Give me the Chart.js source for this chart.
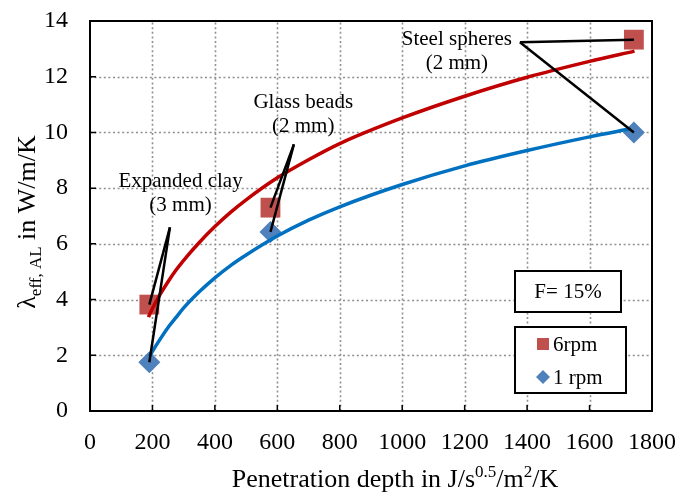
<!DOCTYPE html>
<html>
<head>
<meta charset="utf-8">
<script src="https://cdn.jsdelivr.net/npm/chart.js@4"></script>
<style>
  html, body { margin: 0; padding: 0; background: #fff; }
  #wrap { width: 679px; height: 493px; }
</style>
</head>
<body>
<div id="wrap"><canvas id="myChart" width="679" height="493"></canvas></div>
<script>
// measured points (penetration depth vs effective conductivity)
const depth = [190, 578, 1742];
const rpm6 = [3.82, 7.3, 13.33];
const rpm1 = [1.75, 6.43, 10.0];

// logarithmic trend curves
const trend6X = [187, 200, 220, 250, 275, 300, 350, 400, 450, 500, 600, 700, 800, 1000, 1200, 1400, 1600, 1744];
const trend6Y = [3.37, 3.68, 4.1, 4.64, 5.05, 5.41, 6.05, 6.62, 7.13, 7.58, 8.37, 9.02, 9.6, 10.52, 11.3, 11.98, 12.55, 12.92];
const trend1X = [190, 200, 220, 250, 275, 300, 350, 400, 450, 500, 600, 700, 800, 1000, 1200, 1400, 1600, 1731];
const trend1Y = [1.95, 2.14, 2.5, 3.0, 3.35, 3.7, 4.28, 4.78, 5.22, 5.6, 6.28, 6.85, 7.33, 8.13, 8.8, 9.35, 9.84, 10.13];

const xTicks = [0, 200, 400, 600, 800, 1000, 1200, 1400, 1600, 1800];
const yTicks = [0, 2, 4, 6, 8, 10, 12, 14];

const legendLabels = ['6rpm', '1 rpm'];
const materials = [['Expanded clay', '(3 mm)'], ['Glass beads', '(2 mm)'], ['Steel spheres', '(2 mm)']];

// callout layout in data units: text anchor, line apex, and which point index it points to
const callouts = [
  { text: materials[0], tx: 290, ty: 8.24, ax: 256, ay: 6.59, idx: 0 },
  { text: materials[1], tx: 683, ty: 11.08, ax: 653, ay: 9.57, idx: 1 },
  { text: materials[2], tx: 1175, ty: 13.35, ax: 1377, ay: 13.24, idx: 2 }
];

const SERIF = '"Liberation Serif", "Times New Roman", serif';
const RED = '#C0504D', BLUE = '#4F81BD';

const toPts = (xs, ys) => xs.map((x, i) => ({ x: x, y: ys[i] }));

// dotted grid under the data
const dottedGrid = {
  id: 'dottedGrid',
  beforeDatasetsDraw(chart) {
    const { ctx, chartArea: a, scales: { x, y } } = chart;
    ctx.save();
    ctx.strokeStyle = '#8f8f8f';
    ctx.lineWidth = 1.6;
    ctx.setLineDash([2, 2.6]);
    ctx.beginPath();
    xTicks.slice(1, -1).forEach(v => {
      const px = Math.round(x.getPixelForValue(v)) + 0.5;
      ctx.moveTo(px, a.bottom);
      ctx.lineTo(px, a.top);
    });
    yTicks.slice(1, -1).forEach(v => {
      const py = Math.round(y.getPixelForValue(v)) + 0.5;
      ctx.moveTo(a.left, py);
      ctx.lineTo(a.right, py);
    });
    ctx.stroke();
    ctx.restore();
  }
};

const frame = {
  id: 'frame',
  afterDatasetsDraw(chart) {
    const { ctx, chartArea: a, scales: { x, y } } = chart;
    ctx.save();
    // callout lines
    ctx.strokeStyle = '#000';
    ctx.lineWidth = 2.5;
    callouts.forEach(c => {
      const ax = x.getPixelForValue(c.ax), ay = y.getPixelForValue(c.ay);
      [rpm6, rpm1].forEach(s => {
        ctx.beginPath();
        ctx.moveTo(ax, ay);
        ctx.lineTo(x.getPixelForValue(depth[c.idx]), y.getPixelForValue(s[c.idx]));
        ctx.stroke();
      });
    });
    ctx.font = '21px ' + SERIF;
    ctx.fillStyle = '#000';
    ctx.textAlign = 'center';
    ctx.textBaseline = 'middle';
    callouts.forEach(c => {
      const tx = x.getPixelForValue(c.tx), ty = y.getPixelForValue(c.ty);
      ctx.fillText(c.text[0], tx, ty);
      ctx.fillText(c.text[1], tx, ty + 24);
    });

    // plot frame and inward tick marks
    ctx.lineWidth = 2;
    ctx.strokeRect(a.left, a.top, a.right - a.left, a.bottom - a.top);
    ctx.lineWidth = 1.5;
    ctx.beginPath();
    xTicks.forEach(v => {
      const px = x.getPixelForValue(v);
      ctx.moveTo(px, a.bottom);
      ctx.lineTo(px, a.bottom - 6);
    });
    yTicks.forEach(v => {
      const py = y.getPixelForValue(v);
      ctx.moveTo(a.left, py);
      ctx.lineTo(a.left + 6, py);
    });
    ctx.stroke();

    // info box + legend
    ctx.fillStyle = '#fff';
    ctx.lineWidth = 2;
    ctx.fillRect(515, 271, 106, 41);
    ctx.strokeRect(515, 271, 106, 41);
    ctx.fillRect(515, 327, 111, 66);
    ctx.strokeRect(515, 327, 111, 66);
    ctx.fillStyle = '#000';
    ctx.font = '21px ' + SERIF;
    ctx.fillText('F= 15%', 568, 292);
    ctx.textAlign = 'left';
    ctx.fillText(legendLabels[0], 553, 345);
    ctx.fillText(legendLabels[1], 553, 378);
    ctx.fillStyle = RED;
    ctx.fillRect(537, 338, 12, 12);
    ctx.fillStyle = BLUE;
    ctx.beginPath();
    ctx.moveTo(543, 370); ctx.lineTo(550, 377); ctx.lineTo(543, 384); ctx.lineTo(536, 377);
    ctx.closePath();
    ctx.fill();

    // axis titles with sub/superscripts
    ctx.fillStyle = '#000';
    ctx.textBaseline = 'alphabetic';
    const big = '26px ' + SERIF, small = '17px ' + SERIF;
    const xParts = [['Penetration depth in J/s', big, 0], ['0.5', small, -10], ['/m', big, 0], ['2', small, -10], ['/K', big, 0]];
    const yParts = [['\u03bb', big, 0], ['eff, AL', small, 6], [' in W/m/K', big, 0]];
    const drawParts = (parts, cx, cy) => {
      let w = 0;
      parts.forEach(p => { ctx.font = p[1]; w += ctx.measureText(p[0]).width; });
      let px = cx - w / 2;
      parts.forEach(p => {
        ctx.font = p[1];
        ctx.fillText(p[0], px, cy + p[2]);
        px += ctx.measureText(p[0]).width;
      });
    };
    drawParts(xParts, 395, 487);
    ctx.translate(35, 222);
    ctx.rotate(-Math.PI / 2);
    drawParts(yParts, 0, 0);
    ctx.restore();
  }
};

// keep the plot box fixed regardless of label overhang
const noPad = s => { s.paddingLeft = 0; s.paddingRight = 0; s.paddingTop = 0; s.paddingBottom = 0; };

new Chart(document.getElementById('myChart'), {
  type: 'scatter',
  data: {
    datasets: [
      {
        label: legendLabels[0] + ' trend',
        type: 'line',
        data: toPts(trend6X, trend6Y),
        borderColor: '#C00000',
        borderWidth: 3.5,
        pointRadius: 0,
        cubicInterpolationMode: 'monotone',
        order: 0
      },
      {
        label: legendLabels[1] + ' trend',
        type: 'line',
        data: toPts(trend1X, trend1Y),
        borderColor: '#0070C0',
        borderWidth: 3.5,
        pointRadius: 0,
        cubicInterpolationMode: 'monotone',
        order: 0
      },
      {
        label: legendLabels[0],
        data: toPts(depth, rpm6),
        pointStyle: 'rect',
        pointRadius: 14,
        backgroundColor: RED,
        borderColor: RED,
        borderWidth: 0,
        order: 1
      },
      {
        label: legendLabels[1],
        data: toPts(depth, rpm1),
        pointStyle: 'rectRot',
        pointRadius: 11,
        backgroundColor: BLUE,
        borderColor: BLUE,
        borderWidth: 0,
        order: 1
      }
    ]
  },
  options: {
    responsive: false,
    animation: false,
    layout: { padding: { left: 0, top: 21, right: 27, bottom: 0 } },
    plugins: { legend: { display: false }, tooltip: { enabled: false } },
    scales: {
      x: {
        type: 'linear',
        min: 0,
        max: 1800,
        afterBuildTicks: s => { s.ticks = xTicks.map(v => ({ value: v })); },
        afterFit: s => { s.height = 82; noPad(s); },
        ticks: { font: { family: SERIF, size: 24 }, color: '#000', padding: 17, maxRotation: 0, callback: v => String(v) },
        grid: { display: false, drawTicks: false },
        border: { display: false }
      },
      y: {
        min: 0,
        max: 14,
        afterBuildTicks: s => { s.ticks = yTicks.map(v => ({ value: v })); },
        afterFit: s => { s.width = 90; noPad(s); },
        ticks: { font: { family: SERIF, size: 24 }, color: '#000', padding: 22, callback: v => String(v) },
        grid: { display: false, drawTicks: false },
        border: { display: false }
      }
    }
  },
  plugins: [dottedGrid, frame]
});
</script>
</body>
</html>
